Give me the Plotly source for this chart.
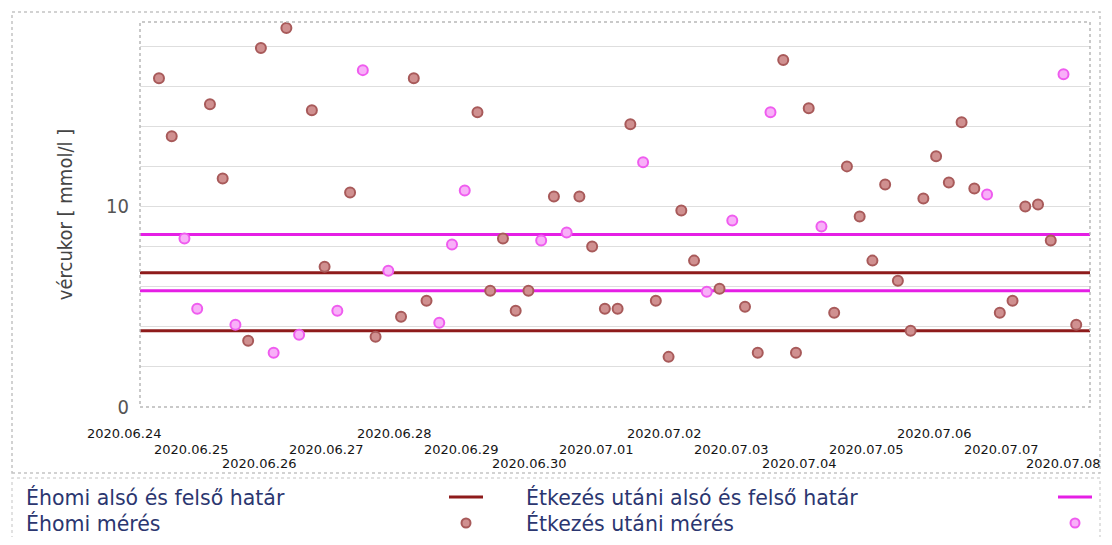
import plotly.graph_objects as go

# ---------------- data ----------------
# measurement sequence numbers (evenly spaced on the chart) and blood sugar values
ehomi_x = [0, 1, 4, 5, 7, 8, 10, 12, 13, 15, 17, 19, 20, 21, 25, 26, 27, 28, 29, 31,
           33, 34, 35, 36, 37, 39, 40, 41, 42, 44, 46, 47, 49, 50, 51, 53, 54, 55, 56,
           57, 58, 59, 60, 61, 62, 63, 64, 66, 67, 68, 69, 70, 72]
ehomi_y = [16.4, 13.5, 15.1, 11.4, 3.3, 17.9, 18.9, 14.8, 7.0, 10.7, 3.5, 4.5, 16.4, 5.3,
           14.7, 5.8, 8.4, 4.8, 5.8, 10.5, 10.5, 8.0, 4.9, 4.9, 14.1, 5.3, 2.5, 9.8, 7.3,
           5.9, 5.0, 2.7, 17.3, 2.7, 14.9, 4.7, 12.0, 9.5, 7.3, 11.1, 6.3, 3.8, 10.4, 12.5,
           11.2, 14.2, 10.9, 4.7, 5.3, 10.0, 10.1, 8.3, 4.1]

etkezes_x = [2, 3, 6, 9, 11, 14, 16, 18, 22, 23, 24, 30, 32, 38, 43, 45, 48, 52, 65, 71]
etkezes_y = [8.4, 4.9, 4.1, 2.7, 3.6, 4.8, 16.8, 6.8, 4.2, 8.1, 10.8, 8.3, 8.7, 12.2,
             5.75, 9.3, 14.7, 9.0, 10.6, 16.6]

ehomi_limits = [3.8, 6.7]
etkezes_limits = [5.8, 8.6]

date_labels = ["2020.06.24", "2020.06.25", "2020.06.26", "2020.06.27", "2020.06.28",
               "2020.06.29", "2020.06.30", "2020.07.01", "2020.07.02", "2020.07.03",
               "2020.07.04", "2020.07.05", "2020.07.06", "2020.07.07", "2020.07.08"]

y_tick_vals = [0, 10]

legend_texts = ["Éhomi alsó és felső határ", "Éhomi mérés",
                "Étkezés utáni alsó és felső határ", "Étkezés utáni mérés"]

# ---------------- layout constants ----------------
OFF = 8                      # page body margin
W, H = 1104, 529
ML, MT = 132, 14
PW, PH = 950, 385
MR = W - ML - PW
MB = H - MT - PH
X_RANGE = [-1.49, 73.08]
Y_RANGE = [0, 19.2]

DARK = "#8e1b1b"
MAG = "#e51fe5"
NAVY = "#2b3670"


def px2x(px):
    return (px - OFF - ML) / PW


def py2y(py):
    return (MT + PH - (py - OFF)) / PH


def idx2paper(v):
    return (v - X_RANGE[0]) / (X_RANGE[1] - X_RANGE[0])


fig = go.Figure()

# limit lines
for v in ehomi_limits:
    fig.add_trace(go.Scatter(x=X_RANGE, y=[v, v], mode="lines",
                             line=dict(color=DARK, width=3), showlegend=False,
                             hoverinfo="skip"))
for v in etkezes_limits:
    fig.add_trace(go.Scatter(x=X_RANGE, y=[v, v], mode="lines",
                             line=dict(color=MAG, width=3), showlegend=False,
                             hoverinfo="skip"))

# measurements
fig.add_trace(go.Scatter(x=ehomi_x, y=ehomi_y, mode="markers", name=legend_texts[1],
                         marker=dict(size=10, color="#d09090",
                                     line=dict(color="#a85a5a", width=2)),
                         showlegend=False, cliponaxis=False))
fig.add_trace(go.Scatter(x=etkezes_x, y=etkezes_y, mode="markers", name=legend_texts[3],
                         marker=dict(size=10, color="#f8b0f8",
                                     line=dict(color="#ef5cef", width=2)),
                         showlegend=False, cliponaxis=False))

shapes = []
# plot area dashed frame
shapes.append(dict(type="rect", xref="paper", yref="paper", x0=0, x1=1, y0=0, y1=1,
                   line=dict(color="#b8b8b8", width=1.5, dash="3px,3px"), layer="above"))
# outer chart box
shapes.append(dict(type="rect", xref="paper", yref="paper",
                   x0=px2x(12), x1=px2x(1100), y0=py2y(473), y1=py2y(12),
                   line=dict(color="#c4c4c4", width=1.5, dash="3px,3px")))
# legend box
shapes.append(dict(type="rect", xref="paper", yref="paper",
                   x0=px2x(12), x1=px2x(1100), y0=py2y(560), y1=py2y(478),
                   line=dict(color="#d8d8d8", width=1.5, dash="3px,3px")))

annotations = []
# staggered date labels along the x axis
day_step = 5.296
first_pos = -2.75
row_shift = [-26, -42, -56, -42]
right_limit = px2x(1102)
half_w = 36 / PW
for k, lab in enumerate(date_labels):
    xc = idx2paper(first_pos + k * day_step)
    if xc + half_w > right_limit:
        xa, xpos = "right", right_limit
    else:
        xa, xpos = "center", xc
    annotations.append(dict(x=xpos, xref="paper", y=0, yref="paper",
                            yshift=row_shift[k % 4], text=lab, showarrow=False,
                            xanchor=xa, yanchor="middle",
                            font=dict(family="DejaVu Sans", size=13, color="#151515")))

# custom legend (text then symbol)
rows_py = [497, 523]
cols = [(24, 466), (524, 1075)]
for c, (tx, sx) in enumerate(cols):
    for r in range(2):
        annotations.append(dict(x=px2x(tx), xref="paper", y=py2y(rows_py[r]), yref="paper",
                                text=legend_texts[c * 2 + r], showarrow=False,
                                xanchor="left", yanchor="middle",
                                font=dict(family="DejaVu Sans", size=20.5, color=NAVY)))
    col_line = DARK if c == 0 else MAG
    shapes.append(dict(type="line", xref="paper", yref="paper",
                       x0=px2x(sx - 17), x1=px2x(sx + 17),
                       y0=py2y(rows_py[0]), y1=py2y(rows_py[0]),
                       line=dict(color=col_line, width=3)))
    fill, edge = ("#d09090", "#a85a5a") if c == 0 else ("#f8b0f8", "#ef5cef")
    shapes.append(dict(type="circle", xref="paper", yref="paper",
                       xsizemode="pixel", ysizemode="pixel",
                       xanchor=px2x(sx), yanchor=py2y(rows_py[1]),
                       x0=-4.5, x1=4.5, y0=-4.5, y1=4.5,
                       fillcolor=fill, line=dict(color=edge, width=2)))

fig.update_layout(
    width=W, height=H,
    margin=dict(l=ML, r=MR, t=MT, b=MB, pad=0),
    paper_bgcolor="white", plot_bgcolor="white",
    showlegend=False,
    xaxis=dict(range=X_RANGE, showticklabels=False, showgrid=False, zeroline=False,
               showline=False, ticks=""),
    yaxis=dict(range=Y_RANGE, tickvals=y_tick_vals, showgrid=True,
               gridcolor="#dedede", gridwidth=1, zeroline=False, showline=False,
               ticks="", ticklabelstandoff=10,
               tickfont=dict(family="Liberation Sans Narrow, DejaVu Sans Condensed, sans-serif",
                             size=20, color="#555555"),
               minor=dict(dtick=2, showgrid=True, gridcolor="#dedede", gridwidth=1),
               title=dict(text="vércukor [ mmol/l ]", standoff=28,
                          font=dict(family="DejaVu Sans Condensed, sans-serif",
                                    size=20, color="#444444"))),
    shapes=shapes,
    annotations=annotations,
)

fig.write_html("out.html")
